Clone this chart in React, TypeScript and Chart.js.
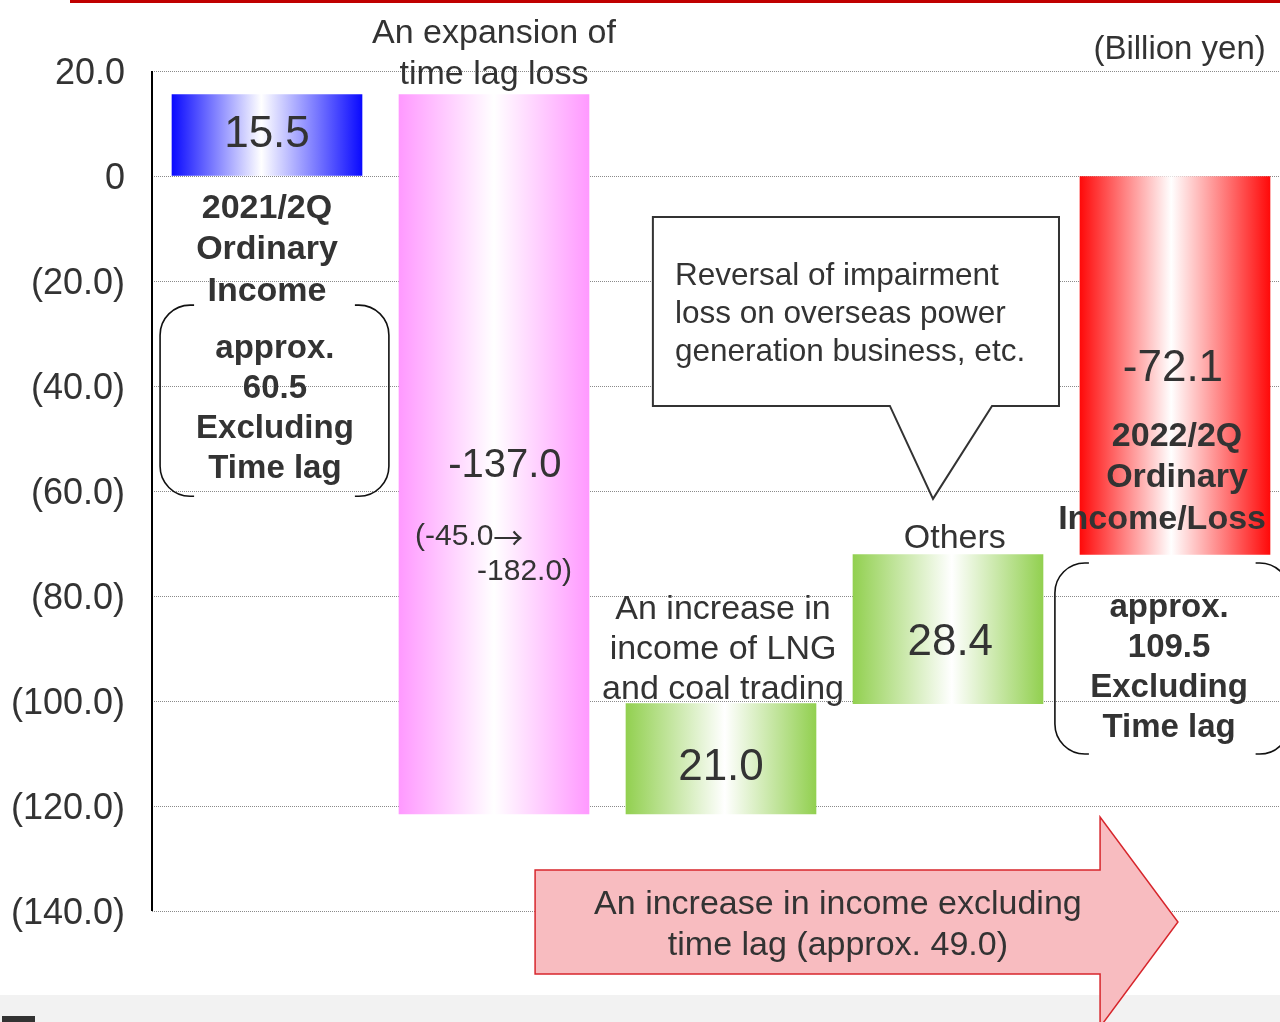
import React, { useEffect, useRef } from 'react';
import { Chart, registerables } from 'chart.js';

Chart.register(...registerables);

// ---- data ----
const categories = [
  '2021/2Q Ordinary Income',
  'An expansion of time lag loss',
  'An increase in income of LNG and coal trading',
  'Others',
  '2022/2Q Ordinary Income/Loss',
];
const categoryPos = [0, 1, 2, 3, 4];
const barStart = [0, 15.5, -121.5, -100.5, -72.1];
const barEnd = [15.5, -121.5, -100.5, -72.1, 0];
const valueLabels = ['15.5', '-137.0', '21.0', '28.4', '-72.1'];
const barEdgeColors = ['#0a0aff', '#ff99ff', '#92d050', '#92d050', '#ff0a0a'];
const barWhiteStop = [0.47, 0.5, 0.52, 0.52, 0.48];
const yTickValues = [20, 0, -20, -40, -60, -80, -100, -120, -140];
const yTickLabels = ['20.0', '0', '(20.0)', '(40.0)', '(60.0)', '(80.0)', '(100.0)', '(120.0)', '(140.0)'];
const unitLabel = '(Billion yen)';

const FONT = '"Liberation Sans", Arial, Helvetica, sans-serif';
const TXT = '#333333';
const BAR_W = 190;

function drawLines(
  ctx: CanvasRenderingContext2D,
  arr: string[],
  x: number,
  y: number,
  lh: number,
  font: string,
  align: CanvasTextAlign = 'center'
) {
  ctx.save();
  ctx.font = font;
  ctx.textAlign = align;
  ctx.textBaseline = 'middle';
  ctx.fillStyle = TXT;
  arr.forEach((s, i) => ctx.fillText(s, x, y + i * lh));
  ctx.restore();
}

function bracketPair(ctx: CanvasRenderingContext2D, x0: number, y0: number, x1: number, y1: number, r: number, ext: number) {
  ctx.save();
  ctx.strokeStyle = '#111111';
  ctx.lineWidth = 1.6;
  ctx.beginPath();
  ctx.moveTo(x0 + r + ext, y0);
  ctx.arcTo(x0, y0, x0, y0 + r, r);
  ctx.lineTo(x0, y1 - r);
  ctx.arcTo(x0, y1, x0 + r, y1, r);
  ctx.lineTo(x0 + r + ext, y1);
  ctx.stroke();
  ctx.beginPath();
  ctx.moveTo(x1 - r - ext, y0);
  ctx.arcTo(x1, y0, x1, y0 + r, r);
  ctx.lineTo(x1, y1 - r);
  ctx.arcTo(x1, y1, x1 - r, y1, r);
  ctx.lineTo(x1 - r - ext, y1);
  ctx.stroke();
  ctx.restore();
}

const decorPlugin = {
  id: 'decor',
  beforeDraw(chart: any) {
    const ctx: CanvasRenderingContext2D = chart.ctx;
    const W = chart.width;
    const H = chart.height;
    ctx.save();
    ctx.fillStyle = '#ffffff';
    ctx.fillRect(0, 0, W, H);
    // slide footer band
    ctx.fillStyle = '#f2f2f2';
    ctx.fillRect(0, H - 27, W, 27);
    ctx.fillStyle = '#333333';
    ctx.fillRect(2, H - 6, 33, 6);
    // red frame bottom edge at top of slide
    ctx.fillStyle = '#c00000';
    ctx.fillRect(70, 0, W - 70, 3);
    ctx.fillRect(70, 0, 3, 3);
    ctx.restore();
  },
  beforeDatasetsDraw(chart: any) {
    const ctx: CanvasRenderingContext2D = chart.ctx;
    const ys = chart.scales.y;
    const left = chart.chartArea.left;
    ctx.save();
    ctx.strokeStyle = '#000000';
    ctx.lineWidth = 2;
    ctx.beginPath();
    ctx.moveTo(left, ys.getPixelForValue(yTickValues[0]));
    ctx.lineTo(left, ys.getPixelForValue(yTickValues[yTickValues.length - 1]));
    ctx.stroke();
    ctx.restore();
  },
  afterDatasetsDraw(chart: any) {
    const ctx: CanvasRenderingContext2D = chart.ctx;
    const xs = chart.scales.x;
    const ys = chart.scales.y;
    const X = (v: number) => xs.getPixelForValue(v);
    const Y = (v: number) => ys.getPixelForValue(v);
    const normal = (s: number) => `${s}px ${FONT}`;
    const bold = (s: number) => `bold ${s}px ${FONT}`;

    // unit label
    drawLines(ctx, [unitLabel], X(4.4), Y(24.0), 0, normal(33), 'right');

    // category 1
    drawLines(ctx, [valueLabels[0]], X(0), Y((barStart[0] + barEnd[0]) / 2), 0, normal(44));
    drawLines(ctx, ['2021/2Q', 'Ordinary', 'Income'], X(0), Y(-6.2), 41.5, bold(34));
    bracketPair(ctx, X(-0.471), Y(-24.6), X(0.537), Y(-61.0), 30, 4);
    drawLines(ctx, ['approx.', '60.5', 'Excluding', 'Time lag'], X(0.035), Y(-32.9), 40, bold(33));

    // category 2
    drawLines(ctx, ['An expansion of', 'time lag loss'], X(1.0), Y(27.2), 41, normal(34));
    drawLines(ctx, [valueLabels[1]], X(1.048), Y(-55.3), 0, normal(40));
    drawLines(ctx, ['(-45.0'], X(0.652), Y(-68.8), 0, normal(30), 'left');
    {
      ctx.save();
      ctx.font = normal(30);
      const w = ctx.measureText('(-45.0').width;
      ctx.restore();
      drawLines(ctx, ['\u2192'], X(0.652) + w, Y(-68.8), 0, '30px "Noto Sans CJK JP", ' + FONT, 'left');
    }
    drawLines(ctx, ['-182.0)'], X(1.344), Y(-75.3), 0, normal(30), 'right');

    // category 3
    drawLines(ctx, ['An increase in', 'income of LNG', 'and coal trading'], X(2.009), Y(-82.6), 40, normal(34));
    drawLines(ctx, [valueLabels[2]], X(2), Y(-112.7), 0, normal(44));

    // category 4
    drawLines(ctx, ['Others'], X(3.03), Y(-69.1), 0, normal(34));
    drawLines(ctx, [valueLabels[3]], X(3.01), Y(-88.9), 0, normal(44));

    // callout
    {
      const x0 = X(1.7), x1 = X(3.489), y0 = Y(-7.8), y1 = Y(-43.8);
      ctx.save();
      ctx.beginPath();
      ctx.moveTo(x0, y0);
      ctx.lineTo(x1, y0);
      ctx.lineTo(x1, y1);
      ctx.lineTo(X(3.194), y1);
      ctx.lineTo(X(2.934), Y(-61.5));
      ctx.lineTo(X(2.744), y1);
      ctx.lineTo(x0, y1);
      ctx.closePath();
      ctx.fillStyle = '#ffffff';
      ctx.fill();
      ctx.strokeStyle = '#333333';
      ctx.lineWidth = 2;
      ctx.stroke();
      ctx.restore();
      drawLines(
        ctx,
        ['Reversal of impairment', 'loss on overseas power', 'generation business, etc.'],
        X(1.797), Y(-19.2), 38, normal(31.5), 'left'
      );
    }

    // category 5
    drawLines(ctx, [valueLabels[4]], X(3.991), Y(-36.7), 0, normal(44));
    drawLines(ctx, ['2022/2Q', 'Ordinary'], X(4.009), Y(-49.6), 41.5, bold(34));
    drawLines(ctx, ['Income/Loss'], X(3.943), Y(-49.6) + 83, 0, bold(34));
    bracketPair(ctx, X(3.471), Y(-73.7), X(4.505), Y(-110.1), 30, 4);
    drawLines(ctx, ['approx.', '109.5', 'Excluding', 'Time lag'], X(3.974), Y(-82.2), 40, bold(33));

    // big arrow
    {
      const bx = X(1.181), bt = Y(-132.2), bb = Y(-152.0);
      const hx = X(3.67), ht = Y(-122.1), hb = Y(-162.1);
      const tx = X(4.013), ty = Y(-142.1);
      ctx.save();
      ctx.beginPath();
      ctx.moveTo(bx, bt);
      ctx.lineTo(hx, bt);
      ctx.lineTo(hx, ht);
      ctx.lineTo(tx, ty);
      ctx.lineTo(hx, hb);
      ctx.lineTo(hx, bb);
      ctx.lineTo(bx, bb);
      ctx.closePath();
      ctx.fillStyle = '#f8bcc0';
      ctx.fill();
      ctx.strokeStyle = '#d7262c';
      ctx.lineWidth = 1.5;
      ctx.stroke();
      ctx.restore();
      drawLines(
        ctx,
        ['An increase in income excluding', 'time lag (approx. 49.0)'],
        X(2.515), Y(-138.8), 41, normal(34)
      );
    }
  },
};

export default function App() {
  const ref = useRef<HTMLCanvasElement | null>(null);

  useEffect(() => {
    if (!ref.current) return;
    document.body.style.overflow = 'hidden';
    const chart = new Chart(ref.current, {
      type: 'bar',
      data: {
        labels: categories,
        datasets: [
          {
            data: categoryPos.map((x, i) => ({ x, y: [barStart[i], barEnd[i]] })) as any,
            barThickness: BAR_W,
            borderWidth: 0,
            borderSkipped: false,
            backgroundColor: (c: any) => {
              const chart = c.chart;
              const i = c.dataIndex ?? 0;
              if (!chart.chartArea || !chart.scales.x) return barEdgeColors[i];
              const cx = chart.scales.x.getPixelForValue(categoryPos[i]);
              const g = chart.ctx.createLinearGradient(cx - BAR_W / 2, 0, cx + BAR_W / 2, 0);
              g.addColorStop(0, barEdgeColors[i]);
              g.addColorStop(barWhiteStop[i], '#ffffff');
              g.addColorStop(1, barEdgeColors[i]);
              return g;
            },
          },
        ],
      },
      options: {
        responsive: false,
        animation: false,
        layout: { padding: { top: 71, bottom: 111, left: 0, right: 0 } },
        plugins: { legend: { display: false }, tooltip: { enabled: false } },
        scales: {
          x: {
            type: 'linear',
            offset: false,
            min: -0.5066,
            max: 4.4626,
            display: false,
            grid: { display: false, offset: false },
          },
          y: {
            min: -140,
            max: 20,
            afterBuildTicks: (s: any) => {
              s.ticks = yTickValues.map((v) => ({ value: v }));
            },
            afterFit: (s: any) => {
              s.width = 152;
            },
            ticks: {
              padding: 27,
              labelOffset: 3,
              color: TXT,
              font: { family: FONT, size: 36 },
              callback: (v: any) => {
                const idx = yTickValues.indexOf(Number(v));
                return idx >= 0 ? yTickLabels[idx] : '';
              },
            },
            grid: { color: '#8a8a8a', lineWidth: 1, drawTicks: false },
            border: { display: false, dash: [1, 1] },
          },
        },
      },
      plugins: [decorPlugin],
    });
    return () => chart.destroy();
  }, []);

  return (
    <div style={{ position: 'absolute', left: 0, top: 0, width: 1280, height: 1022 }}>
      <canvas ref={ref} width={1280} height={1022} style={{ display: 'block' }} />
    </div>
  );
}
